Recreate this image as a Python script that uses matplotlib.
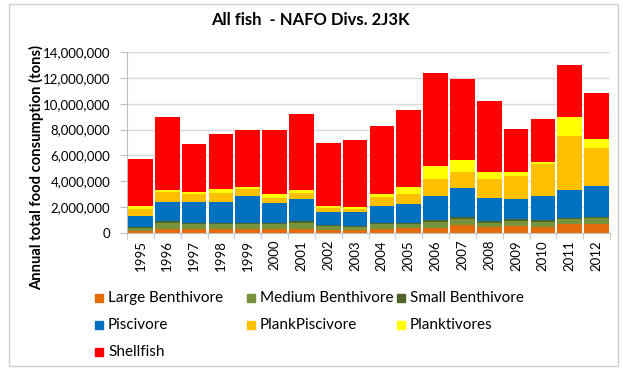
import matplotlib
matplotlib.use("Agg")
import matplotlib.pyplot as plt
from matplotlib.patches import Rectangle
from matplotlib.ticker import FuncFormatter, MultipleLocator
import numpy as np

plt.rcParams['font.family'] = ['Lato', 'DejaVu Sans']

years = [str(y) for y in range(1995, 2013)]
large_benthivore = [0.18, 0.28, 0.30, 0.30, 0.30, 0.30, 0.30, 0.23, 0.23, 0.31, 0.36, 0.41, 0.62, 0.44, 0.52, 0.49, 0.70, 0.72]
medium_benthivore = [0.23, 0.47, 0.40, 0.40, 0.40, 0.40, 0.48, 0.29, 0.21, 0.39, 0.34, 0.47, 0.48, 0.36, 0.44, 0.39, 0.39, 0.42]
small_benthivore = [0.08, 0.21, 0.10, 0.10, 0.10, 0.10, 0.12, 0.10, 0.10, 0.10, 0.10, 0.10, 0.10, 0.10, 0.10, 0.10, 0.10, 0.10]
piscivore = [0.83, 1.47, 1.63, 1.63, 2.09, 1.55, 1.70, 0.98, 1.06, 1.29, 1.47, 1.91, 2.30, 1.77, 1.59, 1.90, 2.12, 2.38]
plankpiscivore = [0.51, 0.72, 0.57, 0.64, 0.49, 0.34, 0.50, 0.31, 0.29, 0.73, 0.73, 1.32, 1.20, 1.51, 1.74, 2.42, 4.23, 2.97]
planktivores = [0.29, 0.21, 0.15, 0.34, 0.21, 0.36, 0.26, 0.18, 0.15, 0.20, 0.59, 0.98, 0.96, 0.50, 0.29, 0.23, 1.40, 0.69]
shellfish = [3.59, 5.63, 3.72, 4.21, 4.41, 4.88, 5.81, 4.86, 5.14, 5.25, 5.89, 7.16, 6.22, 5.52, 3.35, 3.25, 4.03, 3.52]

series_names = ["Large Benthivore", "Medium Benthivore", "Small Benthivore",
                "Piscivore", "PlankPiscivore", "Planktivores", "Shellfish"]
series_values = [large_benthivore, medium_benthivore, small_benthivore,
                 piscivore, plankpiscivore, planktivores, shellfish]
colors = ["#E46C0A", "#77933C", "#4F6228", "#0070C0", "#FFC000", "#FFFF00", "#FF0000"]

fig = plt.figure(figsize=(6.23, 3.70), dpi=100)
ax = fig.add_axes([127/623, 1-233/370, (610-127)/623, (233-52)/370])

x = np.arange(len(years))
bottom = np.zeros(len(years))
for name, vals, c in zip(series_names, series_values, colors):
    v = np.array(vals) * 1e6
    ax.bar(x, v, bottom=bottom, width=0.92, color=c, label=name, zorder=3, linewidth=0)
    bottom += v

ax.set_xlim(-0.5, len(years) - 0.5)
ax.set_ylim(0, 14e6)
ax.yaxis.set_major_locator(MultipleLocator(2e6))
ax.yaxis.set_major_formatter(FuncFormatter(lambda v, p: f"{int(v):,}"))
ax.grid(axis='y', color='#D9D9D9', linewidth=1, zorder=0)
ax.set_xticks(x)
ax.set_xticklabels(years, rotation=90, fontsize=9.5)
ax.set_xticks(np.arange(len(years) + 1) - 0.5, minor=True)
ax.tick_params(axis='x', which='major', length=0, pad=5)
ax.tick_params(axis='x', which='minor', length=4, color='#BFBFBF')
ax.tick_params(axis='y', length=5, color='#BFBFBF', labelsize=9.5, pad=7)
for s in ['top', 'right']:
    ax.spines[s].set_visible(False)
ax.spines['left'].set_color('#BFBFBF')
ax.spines['bottom'].set_color('#BFBFBF')

fig.text(37/623, 1-168/370, "Annual total food consumption (tons)", rotation=90,
         ha='center', va='center', fontsize=10.6, fontweight='bold')
fig.text(310/623, 1-20/370, "All fish  - NAFO Divs. 2J3K", ha='center', va='center',
         fontsize=12, fontweight='bold')

# legend, laid out row-wise in three columns
col_x = [95, 247, 397]
row_y = [298, 325, 352]
for i, (name, c) in enumerate(zip(series_names, colors)):
    r, cc = divmod(i, 3)
    xp = col_x[cc]
    yp = row_y[r]
    fig.patches.append(Rectangle((xp/623, 1-(yp+4)/370), 8/623, 8/370,
                                 transform=fig.transFigure, color=c, figure=fig))
    fig.text((xp+13)/623, 1-yp/370, name, ha='left', va='center', fontsize=11)

fig.patches.append(Rectangle((9/623, 1-366/370), 609/623, 362/370, transform=fig.transFigure,
                             fill=False, edgecolor='#D0D0D0', linewidth=1, figure=fig))

fig.savefig("out.png", dpi=100)
